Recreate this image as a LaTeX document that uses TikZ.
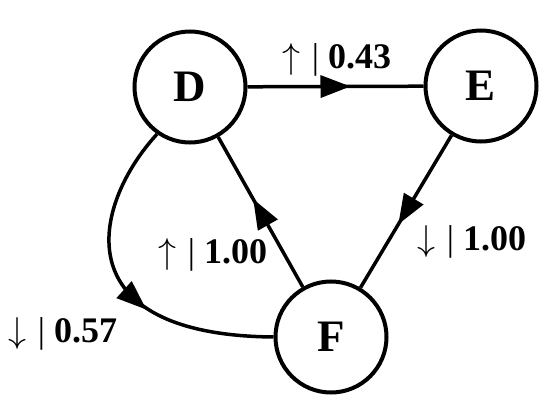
\RequirePackage{fix-cm}
\documentclass[tikz,border=0pt]{standalone}
\usepackage{fontspec}
\setmainfont{Liberation Serif}
\usetikzlibrary{arrows.meta, decorations.markings, calc}
\tikzset{
  state/.style={
    draw=black, circle, line width=4pt, minimum size=111pt, inner sep=0pt,
    font=\fontsize{45}{45}\selectfont\bfseries,
  },
  flow/.style={
    line width=3.5pt, draw=black,
    postaction={decorate},
    decoration={markings, mark=at position #1 with
      {\begin{scope}[xshift=15pt]
         \arrow{Triangle[length=30pt, width=22pt]}
       \end{scope}}},
  },
  flow/.default=0.5,
  weight/.style={
    anchor=base, inner sep=0pt, font=\fontsize{36}{36}\selectfont,
  },
}
\newcommand{\wlabel}[2]{%
  % #1 = arrow, #2 = value
  $#1$\hspace{0.3em}|\hspace{0.25em}\textbf{#2}%
}

\begin{document}
\begin{tikzpicture}[x=1pt, y=-1pt]
\useasboundingbox (0,0) rectangle (550,407);

% states
\node[state] (D) at (190,87) {D};
\node[state] (E) at (481,86) {E};
\node[state] (F) at (331,337) {F};

% transitions
\draw[flow] (D) -- (E);
\draw[flow] (E) -- (F);
\draw[flow] (F) -- (D);
\draw[flow=0.56] (D.235) .. controls (92,205) and (62,335) .. (F.west);

% weights
\node[weight] (wDE) at (337,68)  {\wlabel{\uparrow}{0.43}};
\node[weight] (wEF) at (472,250) {\wlabel{\downarrow}{1.00}};
\node[weight] (wFD) at (213,263) {\wlabel{\uparrow}{1.00}};
\node[weight] (wDF) at (63,342)  {\wlabel{\downarrow}{0.57}};

\end{tikzpicture}
\end{document}
